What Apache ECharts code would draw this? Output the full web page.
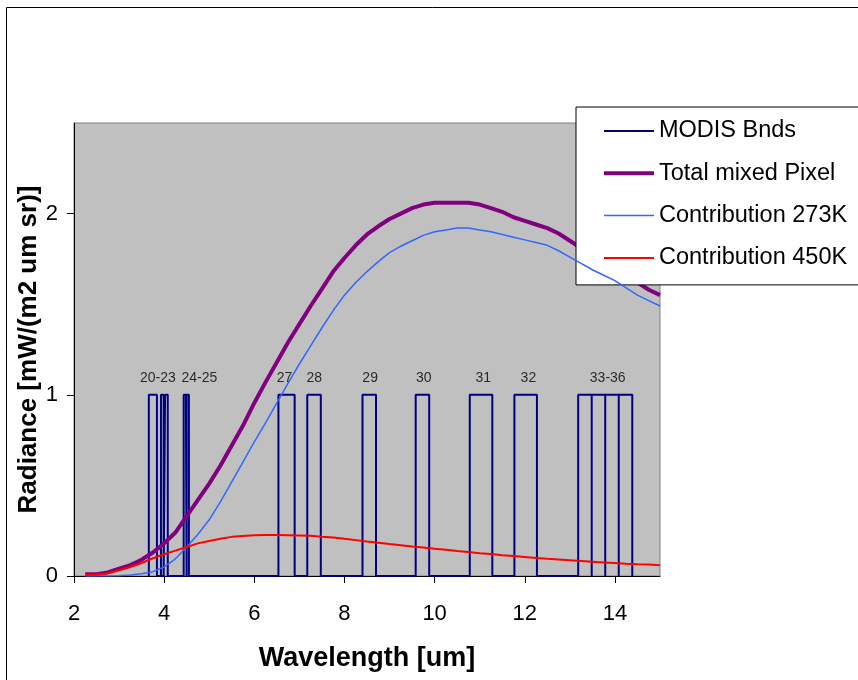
<!DOCTYPE html>
<html>
<head>
<meta charset="utf-8">
<script src="https://cdn.jsdelivr.net/npm/echarts@6/dist/echarts.min.js"></script>
<style>
html,body{margin:0;padding:0;background:#fff;}
#chart{width:858px;height:680px;}
</style>
</head>
<body>
<div id="chart"></div>
<script>
// ---- data ----
var wavelengths = [2.25,2.5,2.75,3.0,3.25,3.5,3.75,4.0,4.25,4.5,4.75,5.0,5.25,5.5,5.75,6.0,6.25,6.5,6.75,7.0,7.25,7.5,7.75,8.0,8.25,8.5,8.75,9.0,9.25,9.5,9.75,10.0,10.25,10.5,10.75,11.0,11.25,11.5,11.75,12.0,12.25,12.5,12.75,13.0,13.25,13.5,13.75,14.0,14.25,14.5,14.75,15.0];
var totalPixel = [0.01,0.01,0.02,0.04,0.06,0.09,0.13,0.18,0.24,0.33,0.42,0.51,0.61,0.72,0.83,0.955,1.07,1.18,1.29,1.39,1.49,1.585,1.68,1.755,1.825,1.885,1.93,1.97,2.00,2.03,2.05,2.06,2.06,2.06,2.06,2.05,2.03,2.01,1.98,1.96,1.94,1.92,1.89,1.85,1.81,1.77,1.73,1.70,1.66,1.62,1.58,1.55];
var contrib273 = [0,0,0,0.001,0.005,0.012,0.024,0.05,0.095,0.16,0.23,0.31,0.41,0.52,0.63,0.74,0.845,0.955,1.065,1.17,1.27,1.37,1.465,1.55,1.62,1.68,1.735,1.785,1.82,1.85,1.88,1.90,1.91,1.92,1.92,1.91,1.90,1.885,1.87,1.855,1.84,1.825,1.795,1.76,1.725,1.69,1.66,1.63,1.59,1.55,1.52,1.49];
var contrib450 = [0.005,0.008,0.015,0.032,0.05,0.072,0.098,0.12,0.14,0.16,0.18,0.193,0.205,0.216,0.221,0.225,0.226,0.226,0.225,0.224,0.222,0.217,0.213,0.205,0.198,0.19,0.183,0.176,0.17,0.163,0.157,0.15,0.145,0.138,0.132,0.126,0.121,0.115,0.11,0.105,0.1,0.095,0.091,0.087,0.083,0.079,0.075,0.072,0.068,0.065,0.063,0.06];
// MODIS band edges (um), bands 20-36 (emissive; 26 omitted)
var bandLo = [3.660,3.929,3.929,4.020,4.433,4.482,6.535,7.175,8.400,9.580,10.780,11.770,13.185,13.485,13.785,14.085];
var bandHi = [3.840,3.989,3.989,4.080,4.498,4.549,6.895,7.475,8.700,9.880,11.280,12.270,13.485,13.785,14.085,14.385];
var bandHeight = 1;
var bandLabels = ['20-23','24-25','27','28','29','30','31','32','33-36'];
var bandLabelX = [3.86,4.78,6.67,7.33,8.57,9.76,11.08,12.08,13.84];
var bandLabelY = 1.09;
var xTicks = [2,4,6,8,10,12,14];
var yTicks = [0,1,2];
var seriesNames = ['MODIS Bnds','Total mixed Pixel','Contribution 273K','Contribution 450K'];

// ---- build ----
function pairs(xs, ys){ return xs.map(function(x,i){ return [x, ys[i]]; }); }
var bandPath = [];
for (var i = 0; i < bandLo.length; i++) {
  bandPath.push([bandLo[i], 0]);
  bandPath.push([bandLo[i], bandHeight]);
  bandPath.push([bandHi[i], bandHeight]);
  bandPath.push([bandHi[i], 0]);
}
var labelData = bandLabels.map(function(t,i){ return {name:t, value:[bandLabelX[i], bandLabelY]}; });

var FONT = '"Liberation Sans", Arial, sans-serif';
var lineColors = ['#000080','#800080','#3366FF','#FF0000'];
var lineWidths = [2, 4, 1.5, 2];
var chart = echarts.init(document.getElementById('chart'), null, {renderer:'canvas'});
chart.setOption({
  animation: false,
  backgroundColor: '#ffffff',
  textStyle: {fontFamily: FONT},
  graphic: [{
    type: 'rect', z: -10, silent: true,
    shape: {x: 6.5, y: 7.5, width: 900, height: 700},
    style: {fill: 'none', stroke: '#000', lineWidth: 1}
  }],
  grid: {
    left: 74, right: 198, top: 123, bottom: 104,
    show: true, backgroundColor: '#C0C0C0', borderColor: '#808080', borderWidth: 1
  },
  legend: {
    data: seriesNames.map(function(n,i){ return {name: n, lineStyle: {width: lineWidths[i], color: lineColors[i]}}; }),
    orient: 'vertical',
    left: 576, top: 107,
    backgroundColor: '#ffffff',
    borderColor: '#000', borderWidth: 1,
    padding: [12, 40, 15, 26],
    itemGap: 18.3,
    itemWidth: 50, itemHeight: 14,
    itemStyle: {opacity: 0},
    textStyle: {fontSize: 23.5, color: '#000', fontFamily: FONT},
    selectedMode: false
  },
  xAxis: {
    type: 'value', min: 2, max: 15, interval: 1,
    name: 'Wavelength [um]', nameLocation: 'middle', nameGap: 69,
    nameTextStyle: {fontSize: 27, fontWeight: 'bold', color: '#000', fontFamily: FONT},
    axisLine: {show: true, onZero: false, lineStyle: {color: '#000', width: 1}},
    axisTick: {show: true, length: 7, customValues: xTicks, lineStyle: {color: '#000'}},
    axisLabel: {customValues: xTicks, fontSize: 22, color: '#000', margin: 27, fontFamily: FONT},
    splitLine: {show: false}
  },
  yAxis: {
    type: 'value', min: 0, max: 2.5, interval: 0.5,
    name: 'Radiance [mW/(m2 um sr)]', nameLocation: 'middle', nameGap: 32,
    nameMoveOverlap: false,
    nameTextStyle: {fontSize: 26, fontWeight: 'bold', color: '#000', fontFamily: FONT},
    axisLine: {show: true, lineStyle: {color: '#000', width: 1}},
    axisTick: {show: true, length: 7, customValues: yTicks, lineStyle: {color: '#000'}},
    axisLabel: {customValues: yTicks, fontSize: 22, color: '#000', margin: 16, fontFamily: FONT},
    splitLine: {show: false}
  },
  series: [
    {
      name: seriesNames[0], type: 'line', data: bandPath, symbol: 'none',
      lineStyle: {color: lineColors[0], width: lineWidths[0]}, itemStyle: {color: lineColors[0]}, z: 2
    },
    {
      name: seriesNames[1], type: 'line', data: pairs(wavelengths, totalPixel), symbol: 'none',
      lineStyle: {color: lineColors[1], width: lineWidths[1]}, itemStyle: {color: lineColors[1]}, z: 3
    },
    {
      name: seriesNames[2], type: 'line', data: pairs(wavelengths, contrib273), symbol: 'none',
      lineStyle: {color: lineColors[2], width: lineWidths[2]}, itemStyle: {color: lineColors[2]}, z: 4
    },
    {
      name: seriesNames[3], type: 'line', data: pairs(wavelengths, contrib450), symbol: 'none',
      lineStyle: {color: lineColors[3], width: lineWidths[3]}, itemStyle: {color: lineColors[3]}, z: 5
    },
    {
      name: 'bandLabels', type: 'scatter', data: labelData, symbolSize: 1,
      itemStyle: {color: 'rgba(0,0,0,0)'}, silent: true, z: 6,
      label: {show: true, position: 'inside', formatter: '{b}', fontSize: 14, color: '#000', fontFamily: FONT}
    }
  ]
});
</script>
</body>
</html>
